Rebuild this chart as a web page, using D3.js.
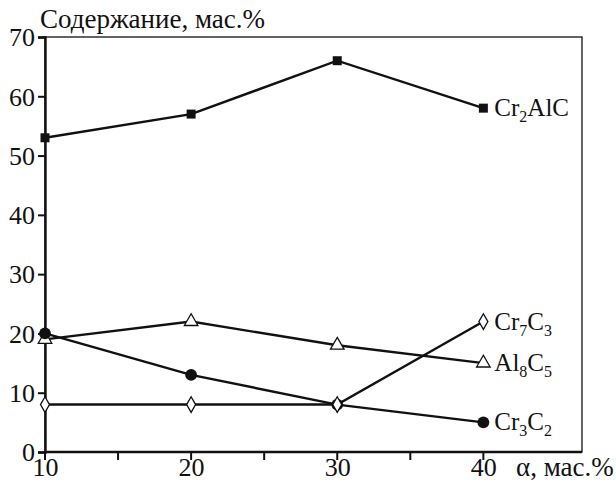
<!DOCTYPE html>
<html>
<head>
<meta charset="utf-8">
<script src="https://cdn.jsdelivr.net/npm/d3@7"></script>
<style>
  html, body { margin: 0; padding: 0; background: #fff; }
  svg { display: block; }
</style>
</head>
<body>
<svg id="chart" width="616" height="490"></svg>
<script>
// Content of phases (mass %) versus α (mass %)
const alpha = [10, 20, 30, 40];
const cr2alc = [53, 57, 66, 58];
const al8c5 = [19, 22, 18, 15];
const cr3c2 = [20, 13, 8, 5];
const cr7c3 = [8, 8, 8, 22];
const yTicks = [0, 10, 20, 30, 40, 50, 60, 70];
const xMajorTicks = [10, 20, 30, 40];
const xMinorTicks = [15, 25, 35];

const series = [
  { name: "Cr2AlC", values: cr2alc, marker: "square", label: ["Cr", "2", "AlC", ""] },
  { name: "Al8C5", values: al8c5, marker: "triangle", label: ["Al", "8", "C", "5"] },
  { name: "Cr3C2", values: cr3c2, marker: "circle", label: ["Cr", "3", "C", "2"] },
  { name: "Cr7C3", values: cr7c3, marker: "diamond", label: ["Cr", "7", "C", "3"] }
];

const FONT = "'Liberation Serif', 'Times New Roman', serif";
const TICK_FS = 26;
const TITLE_FS = 27;
const LABEL_FS = 25;
const INK = "#111";

const svg = d3.select("#chart");
const plotLeft = 45, plotRight = 582, plotTop = 37, plotBottom = 452;

const x = d3.scaleLinear().domain([10, 46.75]).range([plotLeft, plotRight]);
const y = d3.scaleLinear().domain([0, 70]).range([plotBottom, plotTop]);

// frame
svg.append("rect")
  .attr("x", plotLeft).attr("y", plotTop)
  .attr("width", plotRight - plotLeft).attr("height", plotBottom - plotTop)
  .attr("fill", "none").attr("stroke", INK).attr("stroke-width", 1.3);

// left axis
const yAxis = svg.append("g")
  .attr("transform", `translate(${plotLeft},0)`)
  .call(d3.axisLeft(y).tickValues(yTicks).tickSize(7).tickPadding(3));
yAxis.attr("font-family", FONT).attr("font-size", TICK_FS);
yAxis.select(".domain").attr("stroke", INK).attr("stroke-width", 2.4);
yAxis.selectAll(".tick line").attr("stroke", INK).attr("stroke-width", 2);
yAxis.selectAll(".tick text").attr("fill", INK).attr("dy", "0.34em");

// bottom axis: labels from the axis generator, tick marks drawn below
const xAxis = svg.append("g")
  .attr("transform", `translate(0,${plotBottom})`)
  .call(d3.axisBottom(x).tickValues(xMajorTicks).tickSize(0).tickPadding(6));
xAxis.attr("font-family", FONT).attr("font-size", TICK_FS);
xAxis.select(".domain").remove();
xAxis.selectAll(".tick text").attr("fill", INK);
svg.append("g")
  .selectAll("line")
  .data(xMajorTicks.concat(xMinorTicks))
  .join("line")
  .attr("x1", d => x(d)).attr("x2", d => x(d))
  .attr("y1", plotBottom).attr("y2", plotBottom + 8)
  .attr("stroke", INK).attr("stroke-width", 2);
svg.append("line")
  .attr("x1", plotLeft).attr("x2", plotRight)
  .attr("y1", plotBottom).attr("y2", plotBottom)
  .attr("stroke", INK).attr("stroke-width", 2.4);

// titles
svg.append("text").attr("x", 40).attr("y", 28)
  .attr("font-family", FONT).attr("font-size", TITLE_FS).attr("fill", INK)
  .text("Содержание, мас.%");
svg.append("text").attr("x", 516).attr("y", 476)
  .attr("font-family", FONT).attr("font-size", TITLE_FS).attr("fill", INK)
  .text("α, мас.%");

// lines
const line = d3.line().x((d, i) => x(alpha[i])).y(d => y(d));
svg.append("g").selectAll("path")
  .data(series)
  .join("path")
  .attr("d", s => line(s.values))
  .attr("fill", "none").attr("stroke", INK).attr("stroke-width", 2.4);

// markers
const sym = {
  square: d3.symbol().type(d3.symbolSquare).size(81),
  circle: d3.symbol().type(d3.symbolCircle).size(110),
  triangle: d3.symbol().type(d3.symbolTriangle).size(80),
  diamond: d3.symbol().type(d3.symbolDiamond).size(70)
};
const filled = { square: true, circle: true, triangle: false, diamond: false };

series.forEach(s => {
  svg.append("g").selectAll("path")
    .data(s.values)
    .join("path")
    .attr("transform", (d, i) => `translate(${x(alpha[i])},${y(d)})`)
    .attr("d", sym[s.marker]())
    .attr("fill", filled[s.marker] ? INK : "#fff")
    .attr("stroke", INK).attr("stroke-width", filled[s.marker] ? 0 : 1.3);
});

// series labels with subscripts
series.forEach(s => {
  const last = s.values[s.values.length - 1];
  const t = svg.append("text")
    .attr("x", x(40) + 11)
    .attr("y", y(last) + 8)
    .attr("font-family", FONT).attr("font-size", LABEL_FS).attr("fill", INK);
  t.append("tspan").text(s.label[0]);
  t.append("tspan").attr("dy", 6).attr("font-size", 16).text(s.label[1]);
  t.append("tspan").attr("dy", -6).text(s.label[2]);
  if (s.label[3]) t.append("tspan").attr("dy", 6).attr("font-size", 16).text(s.label[3]);
});
</script>
</body>
</html>
